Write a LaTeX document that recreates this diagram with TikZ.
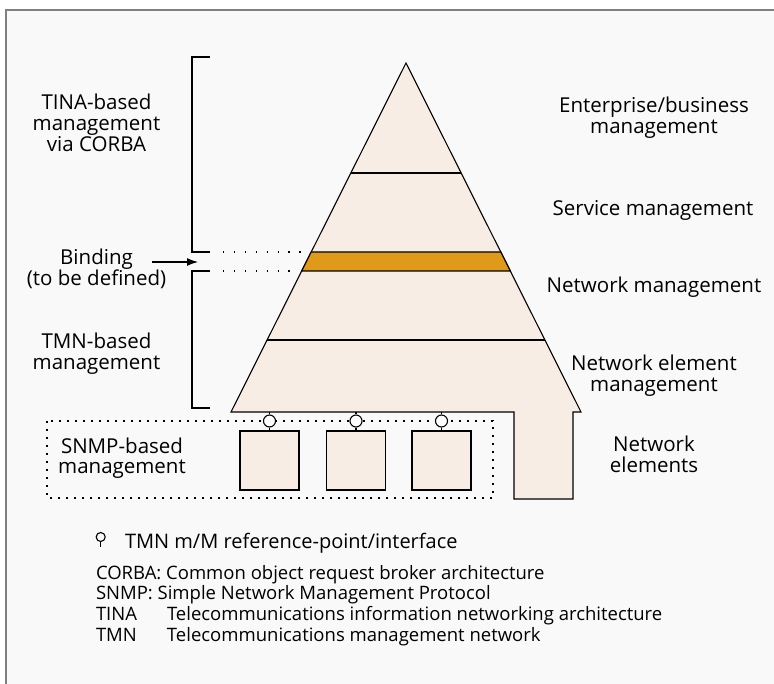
\documentclass[tikz,border=0pt]{standalone}
\usepackage{fontspec}
\setmainfont{Open Sans}
\usetikzlibrary{arrows.meta}
\definecolor{pyr}{HTML}{F7EDE4}
\definecolor{bindc}{HTML}{E09A1A}
\definecolor{bgc}{HTML}{F9F9F9}
\definecolor{framec}{HTML}{808080}
\begin{document}
\begin{tikzpicture}[x=1pt,y=-1pt,
  lbl/.style={inner sep=0pt, outer sep=0pt, anchor=base, align=center,
    font=\fontsize{20.5}{20.8}\selectfont},
  leg/.style={inner sep=0pt, outer sep=0pt, anchor=base west, align=left,
    font=\fontsize{18.5}{20.8}\selectfont},
  brk/.style={line width=1.4pt, draw=black},
  dotl/.style={line width=1.1pt, dash pattern=on 1.3pt off 9.6pt},
  dotbox/.style={line width=1.1pt, dash pattern=on 1.6pt off 6.4pt},
  ne/.style={draw=black, line width=1.1pt, fill=pyr, minimum width=59pt, minimum height=59pt, inner sep=0pt},
  ifc/.style={draw=black, line width=1.1pt, fill=white, circle, minimum size=12pt, inner sep=0pt},
  pyrline/.style={line width=1.1pt, draw=black}
]
\useasboundingbox (0,0) rectangle (774,684);
\fill[white] (0,0) rectangle (774,684);
\fill[bgc] (6,10) rectangle (774,684);
\draw[framec, line width=2pt] (6,684) -- (6,10) -- (774,10);

% pyramid
\coordinate (apex) at (406,63);
\coordinate (bl) at (231,412);
\coordinate (br) at (581,412);
\filldraw[pyrline, fill=pyr] (apex) -- (br) -- (573,412) -- (573,499) -- (514,499) -- (514,412) -- (bl) -- cycle;
\draw[pyrline] (350.8,173) -- (461.2,173);
\draw[pyrline] (267.1,340) -- (544.9,340);
\filldraw[pyrline, fill=bindc] (311.2,252) -- (500.8,252) -- (510.3,271) -- (301.7,271) -- cycle;

% brackets
\draw[brk] (210,57) -- (192,57) -- (192,252) -- (210,252);
\draw[brk] (210,271) -- (192,271) -- (192,408) -- (210,408);
\draw[dotl] (223,252) -- (302,252);
\draw[dotl] (223,271) -- (293,271);

% SNMP box
\draw[dotbox] (47,421) rectangle (493,498);

% network elements
\node[ne] (ne1) at (269.5,460.5) {};
\node[ne] (ne2) at (356,460.5) {};
\node[ne] (ne3) at (441.5,460.5) {};
\foreach \i/\x in {1/269.5,2/356,3/441.5}{
  \coordinate (b\i) at (\x,412);
  \node[ifc] (c\i) at (\x,421) {};
  \draw[line width=1.1pt] (b\i) -- (c\i.north);
  \draw[line width=1.1pt] (c\i.south) -- (ne\i.north);
}

% left labels (anchor = baseline of last line)
\node[lbl] (tina) at (96.5,151.6) {TINA-based\\management\\via CORBA};
\node[lbl] (bind) at (96.5,285.8) {Binding\\(to be defined)};
\coordinate (arrs) at (152,262);
\coordinate (arre) at (198,262);
\draw[line width=1.1pt, -{Latex[length=11pt,width=8pt]}] (arrs) -- (arre);
\node[lbl] (tmn) at (96.5,369.8) {TMN-based\\management};
\node[lbl] (snmp) at (122,473.8) {SNMP-based\\management};

% right labels
\node[lbl] (ent) at (654,133.5) {Enterprise/business\\management};
\node[lbl] (svc) at (653,215.5) {Service management};
\node[lbl] (nm) at (654,293) {Network management};
\node[lbl] (nem) at (654,391.8) {Network element\\management};
\node[lbl] (nel) at (654,472.3) {Network\\elements};

% legend
\node[circle, draw=black, line width=1.1pt, minimum size=9pt, inner sep=0pt] (lc) at (100.7,537) {};
\coordinate (ls) at (100.7,547);
\draw[line width=1.1pt] (lc.south) -- (ls);
\node[leg, font=\fontsize{20}{20.8}\selectfont] (l0) at (125,548) {TMN m/M reference-point/interface};
\node[leg] (l1) at (96,641.4) {CORBA: Common object request broker architecture\\
SNMP: Simple Network Management Protocol\\
\makebox[71pt][l]{TINA}Telecommunications information networking architecture\\
\makebox[71pt][l]{TMN}Telecommunications management network};
\end{tikzpicture}
\end{document}
